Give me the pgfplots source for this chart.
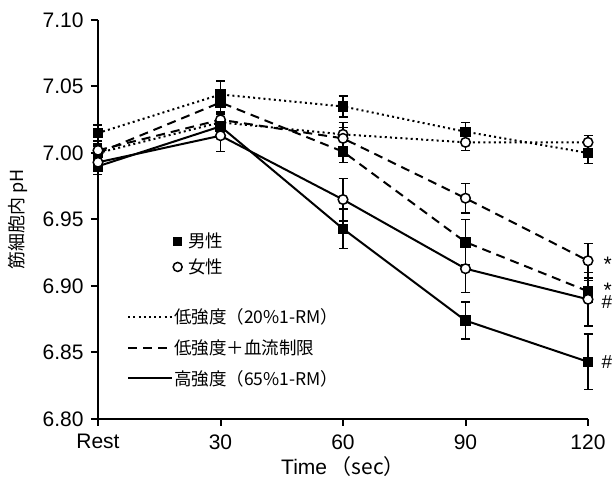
\documentclass[border=0pt]{standalone}
\usepackage{pgfplots}
\pgfplotsset{compat=1.18}
\usepackage{fontspec}
\setmainfont{Liberation Sans}
\newfontfamily\jp{Noto Sans CJK JP}
\usetikzlibrary{calc}

\tikzset{
  dotl/.style={line width=2pt, dash pattern=on 2pt off 3.2pt},
  dashl/.style={line width=2pt, dash pattern=on 9pt off 6pt},
  soll/.style={line width=2pt},
}
\pgfplotsset{
  male/.style={mark=square*, mark options={solid, fill=black, draw=black, line width=0.8pt}, mark size=4.8pt},
  female/.style={mark=*, mark options={solid, fill=white, draw=black, line width=1.5pt}, mark size=4.8pt},
  eb/.style={error bars/.cd, y dir=both, y explicit,
     error bar style={solid, line width=1.4pt},
     error mark options={solid, rotate=90, mark size=4.5pt, line width=1.4pt}, /pgfplots/.cd},
}

\begin{document}
\begin{tikzpicture}
\begin{axis}[
  name=ax,
  scale only axis,
  width=490pt, height=399pt,
  xmin=0, xmax=120, ymin=6.80, ymax=7.10,
  axis x line*=bottom, axis y line*=left,
  axis line style={-, line width=2pt},
  xtick={0,30,60,90,120},
  xticklabels={Rest,30,60,90,120},
  ytick={6.80,6.85,6.90,6.95,7.00,7.05,7.10},
  yticklabel style={/pgf/number format/.cd, fixed, fixed zerofill, precision=2, /tikz/.cd, xshift=-4pt},
  xticklabel style={yshift=-5pt},
  /pgf/number format/assume math mode=true,
  tick align=outside,
  major tick length=7pt,
  tick style={line width=2pt, black},
  tick label style={font=\fontsize{21}{24}\selectfont},
  xlabel={Time\,\jp{（}sec\jp{）}},
  xlabel style={font=\fontsize{21}{24}\selectfont, at={(axis description cs:0.5,0)}, anchor=center, yshift=-48pt},
  ylabel={\jp 筋細胞内 pH},
  ylabel style={font=\fontsize{18}{20}\selectfont, at={(axis description cs:-0.164,0.5)}, anchor=center},
  clip=false,
  legend style={at={(axis description cs:0.059,0.28)}, anchor=north west, draw=none, fill=none,
    inner sep=0pt, row sep=12.5pt, font=\jp\fontsize{17.5}{20}\selectfont,
    nodes={inner sep=1pt}},
  legend cell align=left,
  legend image code/.code={\draw[#1] (0pt,0pt) -- (44pt,0pt);},
]
% low intensity (dotted)
\addplot[forget plot, dotl, male, eb] table[x=x, y=y, y error=e] {
x y e
0 7.015 0.006
30 7.044 0.010
60 7.035 0.008
90 7.016 0.007
120 7.000 0.008
};
\addplot[forget plot, dotl, female, eb] table[x=x, y=y, y error=e] {
x y e
0 7.000 0.005
30 7.023 0.006
60 7.014 0.009
90 7.008 0.006
120 7.008 0.005
};
% low intensity + blood flow restriction (dashed)
\addplot[forget plot, dashl, male, eb] table[x=x, y=y, y error=e] {
x y e
0 7.000 0.006
30 7.038 0.008
60 7.001 0.008
90 6.933 0.017
120 6.896 0.008
};
\addplot[forget plot, dashl, female, eb] table[x=x, y=y, y error=e] {
x y e
0 7.002 0.005
30 7.025 0.006
60 7.011 0.008
90 6.966 0.011
120 6.919 0.013
};
% high intensity (solid)
\addplot[forget plot, soll, male, eb] table[x=x, y=y, y error=e] {
x y e
0 6.990 0.006
30 7.020 0.006
60 6.943 0.015
90 6.874 0.014
120 6.843 0.021
};
\addplot[forget plot, soll, female, eb] table[x=x, y=y, y error=e] {
x y e
0 6.993 0.005
30 7.013 0.012
60 6.965 0.016
90 6.913 0.018
120 6.890 0.020
};
\addlegendimage{dotl}
\addlegendentry{低強度（20\%1-RM）}
\addlegendimage{dashl}
\addlegendentry{低強度＋血流制限}
\addlegendimage{soll}
\addlegendentry{高強度（65\%1-RM）}

\node[anchor=west, font=\fontsize{21}{20}\selectfont] at (axis cs:120,6.916) [xshift=12pt] {*};
\node[anchor=west, font=\fontsize{21}{20}\selectfont] at (axis cs:120,6.897) [xshift=12pt] {*};
\node[anchor=west, font=\fontsize{19}{20}\selectfont] at (axis cs:120,6.888) [xshift=10pt] {\#};
\node[anchor=west, font=\fontsize{19}{20}\selectfont] at (axis cs:120,6.843) [xshift=10pt] {\#};
\end{axis}

\begin{axis}[
  scale only axis,
  width=490pt, height=399pt,
  xmin=0, xmax=120, ymin=6.80, ymax=7.10,
  hide axis,
  legend style={at={(axis description cs:0.153,0.47)}, anchor=north west, draw=none, fill=none,
    inner sep=0pt, row sep=8pt, font=\jp\fontsize{17.5}{20}\selectfont,
    nodes={inner sep=1pt}},
  legend cell align=left,
  legend image code/.code={\path[#1] plot coordinates {(4pt,0pt)};},
]
\addlegendimage{only marks, mark=square*, mark size=4pt, mark options={fill=black, draw=black}}
\addlegendentry{\hspace{5pt}男性}
\addlegendimage{only marks, mark=*, mark size=4.5pt, mark options={fill=white, draw=black, line width=1.5pt}}
\addlegendentry{\hspace{5pt}女性}
\end{axis}

\pgfresetboundingbox
\path ($(ax.south west)+(-98pt,-61pt)$) rectangle ($(ax.north east)+(28pt,20pt)$);
\end{tikzpicture}
\end{document}
